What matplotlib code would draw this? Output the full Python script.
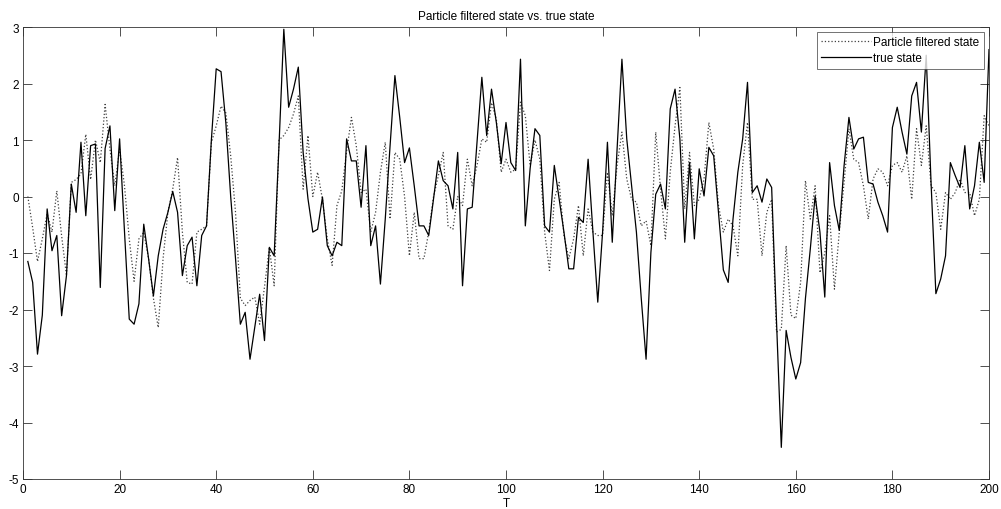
import matplotlib
matplotlib.use('Agg')
import matplotlib.pyplot as plt

# values, t = 1..200
true_state = [
    -1.15, -1.52, -2.79, -2.1, -0.22, -0.96, -0.69, -2.11, -1.4, 0.22,
    -0.28, 0.96, -0.34, 0.9, 0.93, -1.61, 0.85, 1.25, -0.25, 1.02,
    -0.6, -2.17, -2.26, -1.9, -0.49, -1.1, -1.76, -1.05, -0.58, -0.28,
    0.09, -0.28, -1.4, -0.87, -0.72, -1.58, -0.69, -0.52, 1.0, 2.26,
    2.21, 1.3, 0.0, -1.1, -2.26, -2.05, -2.88, -2.3, -1.73, -2.55,
    -0.9, -1.05, 0.9, 2.96, 1.58, 1.9, 2.29, 0.78, -0.04, -0.63,
    -0.58, -0.01, -0.87, -1.05, -0.81, -0.87, 1.02, 0.63, 0.63, -0.19,
    0.9, -0.87, -0.52, -1.55, -0.4, 0.9, 2.14, 1.4, 0.6, 0.86,
    0.19, -0.52, -0.52, -0.69, -0.04, 0.63, 0.28, 0.19, -0.22, 0.78,
    -1.58, -0.22, -0.19, 0.96, 2.11, 1.08, 1.9, 1.31, 0.58, 1.31,
    0.6, 0.46, 2.43, -0.52, 0.5, 1.2, 1.08, -0.52, -0.63, 0.55,
    -0.04, -0.63, -1.28, -1.28, -0.37, -0.46, 0.66, -0.63, -1.87, -0.63,
    0.96, -0.81, 0.84, 2.43, 1.02, 0.19, -0.63, -1.8, -2.88, -0.99,
    0.04, 0.22, -0.22, 1.55, 1.9, 1.02, -0.81, 0.6, -0.75, 0.49,
    0.01, 0.87, 0.72, -0.28, -1.3, -1.52, -0.4, 0.43, 1.02, 2.02,
    0.07, 0.19, -0.1, 0.31, 0.16, -2.2, -4.44, -2.37, -2.85, -3.23,
    -2.94, -1.8, -0.93, 0.01, -0.63, -1.78, 0.6, -0.16, -0.6, 0.55,
    1.4, 0.84, 1.02, 1.05, 0.25, 0.22, -0.1, -0.34, -0.63, 1.22,
    1.58, 1.14, 0.75, 1.78, 2.02, 1.14, 2.5, 0.25, -1.72, -1.46,
    -1.05, 0.6, 0.37, 0.16, 0.9, -0.22, 0.19, 0.96, 0.25, 2.6,
]

pf_state = [
    0.0, -0.55, -1.15, -0.75, -0.3, -0.63, 0.1, -0.7, -1.4, 0.25,
    0.3, 0.4, 1.1, 0.3, 1.0, 0.6, 1.63, 0.84, 0.19, 0.84,
    0.2, -0.75, -1.5, -0.75, -0.63, -1.1, -1.8, -2.32, -1.1, -0.28,
    0.13, 0.69, -0.63, -1.52, -1.55, -0.63, -0.58, -0.52, 0.95, 1.25,
    1.6, 1.48, 0.72, -0.28, -1.8, -1.93, -1.84, -1.78, -2.26, -1.6,
    -0.9, -1.58, 1.0, 1.08, 1.22, 1.46, 1.78, 0.13, 1.08, 0.0,
    0.43, -0.05, -0.75, -1.22, -0.16, 0.1, 0.8, 1.4, 0.9, 0.07,
    0.13, -0.63, -0.28, 0.43, 0.96, -0.4, 0.78, 0.66, 0.0, -1.05,
    -0.28, -1.1, -1.1, -0.63, 0.0, 0.37, 0.78, -0.52, -0.58, 0.0,
    -0.16, 0.66, 0.19, 0.55, 1.02, 0.96, 1.66, 1.37, 0.43, 0.66,
    0.43, 0.48, 1.67, 1.43, 0.55, 1.0, 0.66, -0.63, -1.31, -0.05,
    0.25, -0.69, -1.1, -0.75, -0.16, -1.05, -0.22, -0.63, -0.69, -0.69,
    0.43, -0.34, 0.55, 1.14, 0.31, -0.05, -0.1, -0.52, -0.43, -0.87,
    1.14, 0.13, -0.75, 0.43, 1.25, 1.93, -0.22, 0.78, -0.16, -0.05,
    0.31, 1.31, 0.84, -0.16, -0.63, -0.4, -0.52, -1.05, 0.55, 1.31,
    -0.05, -0.05, -1.05, -0.28, -0.05, -2.4, -2.35, -0.87, -2.1, -2.16,
    -1.52, 0.28, -0.4, 0.19, -1.35, -1.0, -0.34, -1.64, -0.63, 0.25,
    1.2, 0.66, 0.6, 0.19, -0.4, 0.31, 0.49, 0.43, 0.19, 0.55,
    0.6, 0.43, 0.72, -0.05, 1.2, 0.55, 1.25, 0.19, 0.07, -0.58,
    0.07, -0.05, 0.07, 0.31, 0.07, 0.07, -0.34, -0.05, 1.43, 1.25,
]

t = list(range(1, len(true_state) + 1))
x_ticks = list(range(0, 201, 20))
y_ticks = list(range(-5, 4))

plt.rcParams['font.family'] = ['Liberation Sans', 'DejaVu Sans']
plt.rcParams['font.size'] = 8.5
plt.rcParams['axes.unicode_minus'] = False

fig = plt.figure(figsize=(10.01, 5.10), dpi=100)
ax = fig.add_axes([23 / 1001, 1 - 480 / 510, 966 / 1001, 452 / 510])

ax.plot(t, pf_state, linestyle=':', color='#404040', linewidth=0.9,
        label='Particle filtered state')
ax.plot(t, true_state, linestyle='-', color='black', linewidth=0.9,
        label='true state')

ax.set_xlim(0, 200)
ax.set_ylim(-5, 3)
ax.set_xticks(x_ticks)
ax.set_yticks(y_ticks)
ax.tick_params(direction='in', top=True, right=True, length=6.5, width=0.6,
               pad=3, labelsize=8.5, color='#333333')
for s in ax.spines.values():
    s.set_linewidth(0.6)
    s.set_color('#333333')

ax.set_title('Particle filtered state vs. true state', fontsize=8.5, pad=6)
ax.set_xlabel('T', fontsize=8.5, labelpad=1)

leg = ax.legend(loc='upper right', fontsize=8.5, frameon=True, fancybox=False,
                edgecolor='#333333', handlelength=4.2, borderaxespad=0.4,
                borderpad=0.4, labelspacing=0.3, handletextpad=0.2)
leg.get_frame().set_linewidth(0.6)

fig.savefig('out.png', dpi=100)
